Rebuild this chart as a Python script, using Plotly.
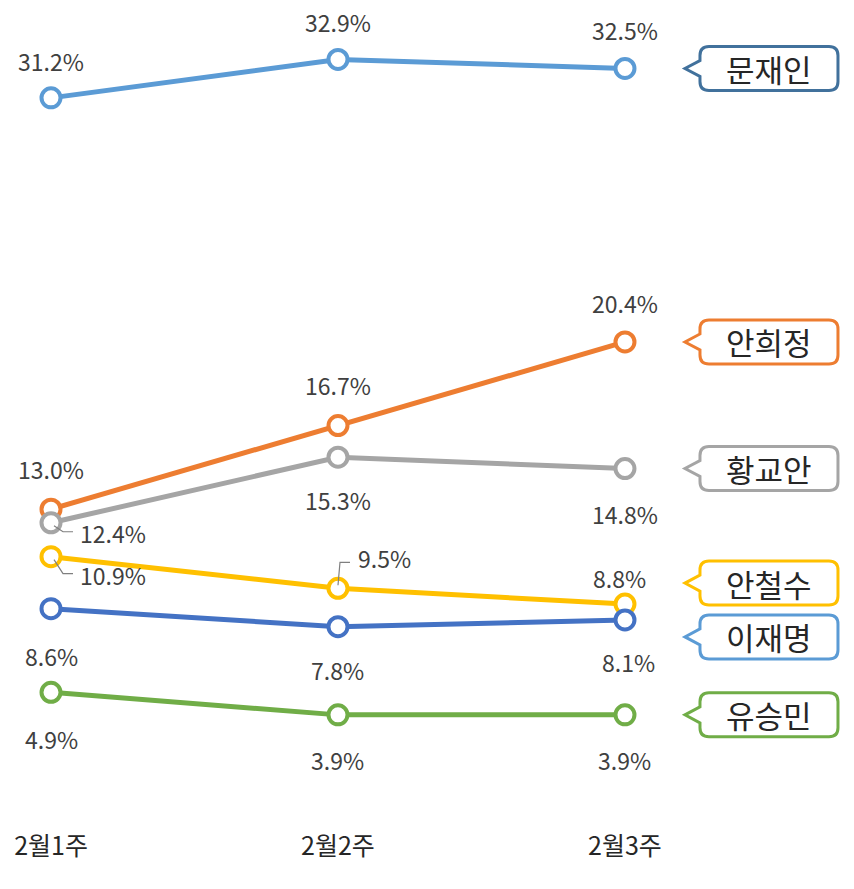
import plotly.graph_objects as go

weeks = ["2월1주", "2월2주", "2월3주"]
moon = [31.2, 32.9, 32.5]
ahn_hj = [13.0, 16.7, 20.4]
hwang = [12.4, 15.3, 14.8]
ahn_cs = [10.9, 9.5, 8.8]
lee = [8.6, 7.8, 8.1]
yoo = [4.9, 3.9, 3.9]

names = ["문재인", "안희정", "황교안", "안철수", "이재명", "유승민"]
series = [moon, ahn_hj, hwang, ahn_cs, lee, yoo]
line_colors = ["#5B9BD5", "#ED7D31", "#A5A5A5", "#FFC000", "#4472C4", "#70AD47"]
box_colors = ["#41719C", "#ED7D31", "#A5A5A5", "#FFC000", "#5B9BD5", "#70AD47"]
# callout vertical position (value units) for each name box
callout_y = [32.5, 20.4, 14.8, 9.73, 7.35, 3.9]

# label offsets (px): (xshift, yshift) per point
label_off = [
    [(0, 37), (0, 37), (0, 38)],
    [(0, 40), (0, 41), (0, 39)],
    [(62, -10), (0, -43), (0, -45)],
    [(62, -18), (47, 30), (-5, 26)],
    [(0, -47), (0, -43), (4, -42)],
    [(0, -47), (0, -45), (0, -45)],
]
# leader lines: (series index, point index, path)
leaders = [
    (2, 0, "M 3,-3 L 12,-9 L 22,-9"),
    (3, 0, "M 3,-3 L 12,-17 L 22,-17"),
    (3, 1, "M 0,3 L 2,26 L 12,26"),
]

FONT = "Noto Sans CJK KR, Open Sans, sans-serif"
TXT = "#404040"

fig = go.Figure()
xs = list(range(len(weeks)))
for name, vals, c in zip(names, series, line_colors):
    fig.add_trace(go.Scatter(
        x=xs, y=vals, mode="lines+markers", name=name,
        line=dict(color=c, width=5),
        marker=dict(size=19, color="white", line=dict(color=c, width=4)),
        hoverinfo="skip", showlegend=False, cliponaxis=False,
    ))

annotations = []
for si, vals in enumerate(series):
    for pi, v in enumerate(vals):
        dx, dy = label_off[si][pi]
        annotations.append(dict(
            x=pi, y=v, text=f"{v:.1f}%", showarrow=False,
            xshift=dx, yshift=dy,
            font=dict(family=FONT, size=23, color=TXT),
        ))

shapes = []
for si, pi, path in leaders:
    shapes.append(dict(
        type="path", xref="x", yref="y", xsizemode="pixel", ysizemode="pixel",
        xanchor=pi, yanchor=series[si][pi], path=path,
        line=dict(color="#7F7F7F", width=1.2), layer="above",
    ))

# callout boxes
L, R, T, h, r, n = 75, 213, 60, 22, 9, 8
box_path = (f"M {L+r},{h} L {R-r},{h} Q {R},{h} {R},{h-r} L {R},{-h+r} "
            f"Q {R},{-h} {R-r},{-h} L {L+r},{-h} Q {L},{-h} {L},{-h+r} "
            f"L {L},{-n} L {T},0 L {L},{n} L {L},{h-r} Q {L},{h} {L+r},{h} Z")
for name, cy, bc in zip(names, callout_y, box_colors):
    shapes.append(dict(
        type="path", xref="x", yref="y", xsizemode="pixel", ysizemode="pixel",
        xanchor=2, yanchor=cy, path=box_path,
        line=dict(color=bc, width=3), fillcolor="white", layer="above",
    ))
    annotations.append(dict(
        x=2, y=cy, text=name, showarrow=False, xshift=(L + R) / 2,
        font=dict(family=FONT, size=31, color="#262626"),
    ))

fig.update_layout(
    width=854, height=889,
    margin=dict(l=0, r=0, t=0, b=60),
    paper_bgcolor="white", plot_bgcolor="white",
    xaxis=dict(range=[-0.1777, 2.798], tickmode="array", tickvals=xs, ticktext=weeks,
               showgrid=False, zeroline=False, showline=False, ticks="",
               tickfont=dict(family=FONT, size=25, color="#262626")),
    yaxis=dict(range=[-1.15, 35.53], visible=False, showgrid=False, zeroline=False),
    shapes=shapes, annotations=annotations,
)

fig.write_html("out.html")
